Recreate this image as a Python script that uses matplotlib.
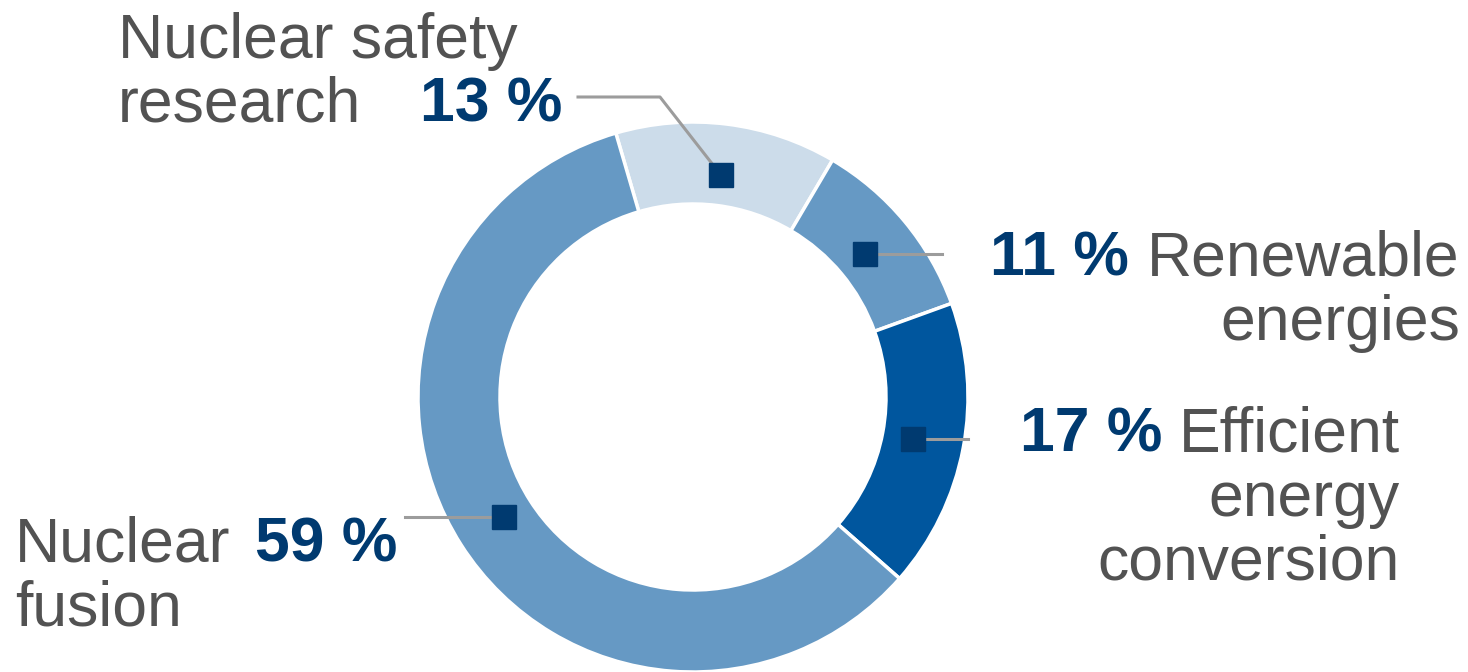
import numpy as np
import matplotlib.pyplot as plt

# Data
categories = ['Nuclear safety\nresearch', 'Renewable\nenergies',
              'Efficient\nenergy\nconversion', 'Nuclear\nfusion']
shares = [13, 11, 17, 59]
pct_labels = ['13 %', '11 %', '17 %', '59 %']
colors = ['#ccdcea', '#6699c4', '#00569e', '#6699c4']

W, H = 1468, 672
fig = plt.figure(figsize=(W / 100, H / 100), dpi=100)
ax = fig.add_axes([0, 0, 1, 1])
plt.rcParams['font.family'] = ['Liberation Sans', 'DejaVu Sans']

cx, cy = 693, 672 - 397
R = 275
ring = 82

wedges, _ = ax.pie(shares, colors=colors, startangle=106.3, counterclock=False,
                   center=(cx, cy), radius=R,
                   wedgeprops=dict(width=ring, edgecolor='white', linewidth=2.5))
ax.set_xlim(0, W)
ax.set_ylim(0, H)
ax.set_aspect('equal')
ax.axis('off')

gray = '#525252'
navy = '#003a70'
line_c = '#9c9c9c'
fs = 45
step = 64  # line step in pixels

# marker positions from wedge mid angles
rm = R - ring / 2 - 10
marks = []
for w in wedges:
    a = np.deg2rad((w.theta1 + w.theta2) / 2)
    marks.append((cx + rm * np.cos(a), cy + rm * np.sin(a)))

# leader lines (in pixel coords, y up)
mx, my = marks[0]
ax.plot([mx, 660, 578], [my, H - 97, H - 97], color=line_c, lw=2.2, zorder=3)
mx, my = marks[1]
ax.plot([mx, 942], [my, my], color=line_c, lw=2.2, zorder=3)
mx, my = marks[2]
ax.plot([mx, 968], [my, my], color=line_c, lw=2.2, zorder=3)
mx, my = marks[3]
ax.plot([mx, 405], [my, my], color=line_c, lw=2.2, zorder=3)

for mx, my in marks:
    ax.plot(mx, my, marker='s', ms=17, color=navy, mec=navy, zorder=4)


def block(x, y0, text, ha):
    # draw a multi-line label one line at a time, y0 = top baseline (from top)
    for i, line in enumerate(text.split('\n')):
        ax.text(x, H - (y0 + i * step), line, fontsize=fs, color=gray,
                ha=ha, va='baseline')


# Nuclear safety research
block(118, 58, categories[0], 'left')
ax.text(420, H - 122, pct_labels[0], fontsize=fs, color=navy, fontweight='bold',
        ha='left', va='baseline')

# Renewable energies
block(1460, 276, categories[1], 'right')
ax.text(990, H - 276, pct_labels[1], fontsize=fs, color=navy, fontweight='bold',
        ha='left', va='baseline')

# Efficient energy conversion
block(1400, 452, categories[2], 'right')
ax.text(1020, H - 452, pct_labels[2], fontsize=fs, color=navy, fontweight='bold',
        ha='left', va='baseline')

# Nuclear fusion
block(15, 562, categories[3], 'left')
ax.text(255, H - 562, pct_labels[3], fontsize=fs, color=navy, fontweight='bold',
        ha='left', va='baseline')

fig.savefig('out.png', dpi=100)
